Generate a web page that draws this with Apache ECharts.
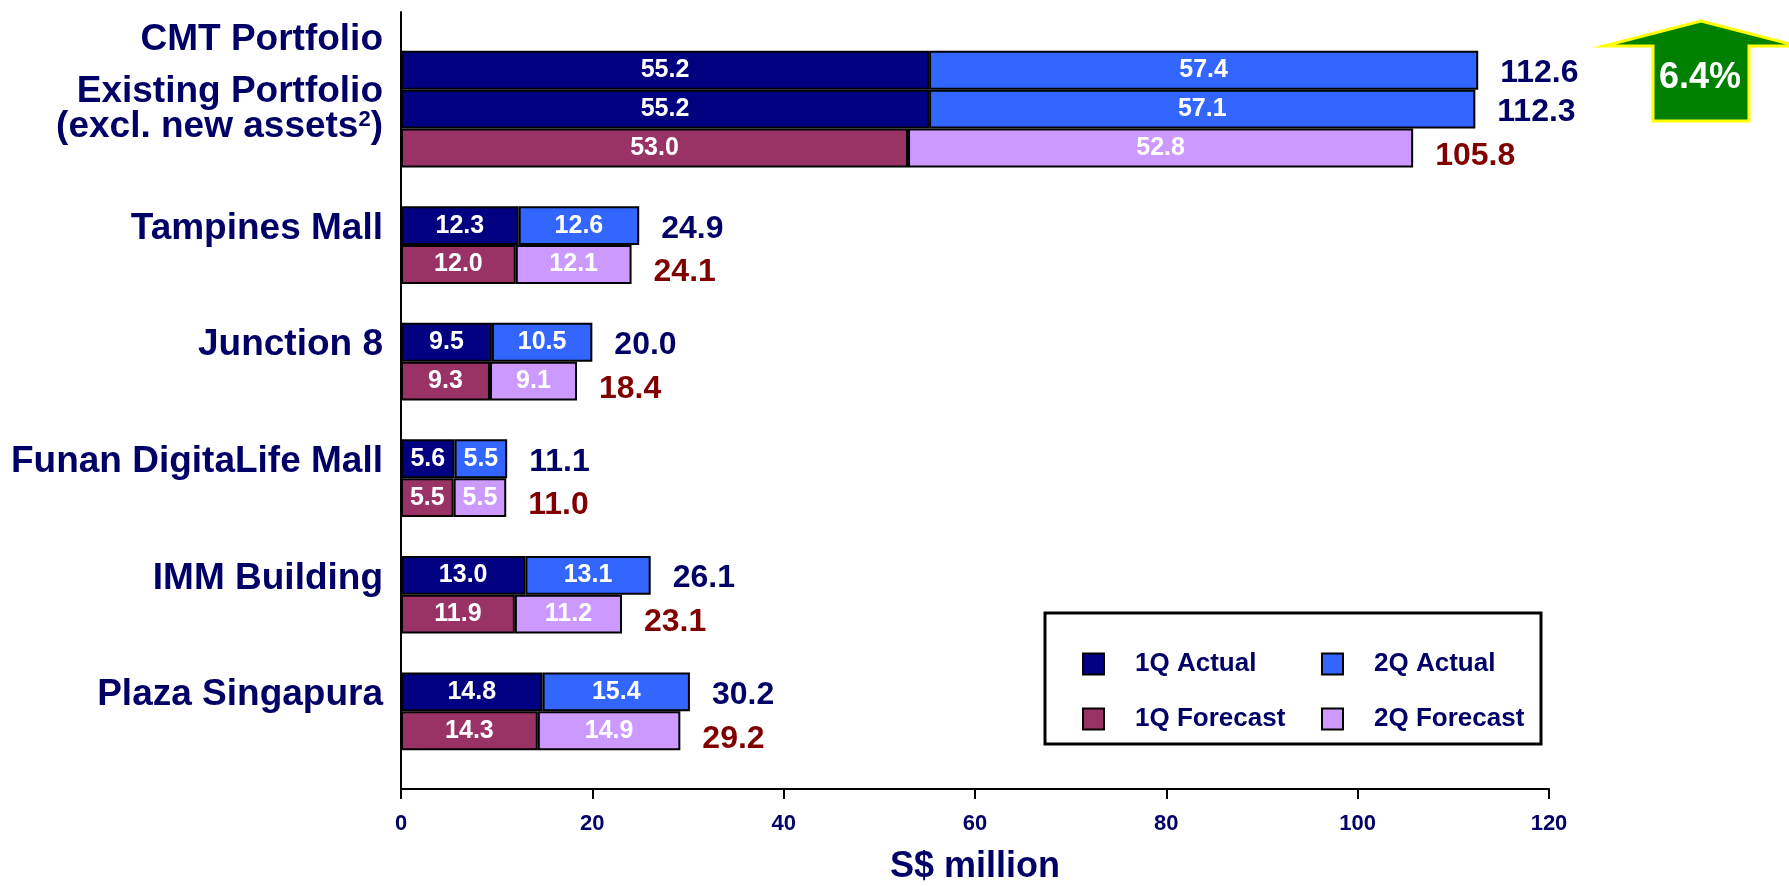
<!DOCTYPE html>
<html>
<head>
<meta charset="utf-8">
<script src="https://cdn.jsdelivr.net/npm/echarts@6/dist/echarts.min.js"></script>
<style>
  html, body { margin: 0; padding: 0; background: #fff; }
  #chart { width: 1789px; height: 886px; }
</style>
</head>
<body>
<div id="chart"></div>
<script>
// values
const properties = ['Existing Portfolio', 'Tampines Mall', 'Junction 8', 'Funan DigitaLife Mall', 'IMM Building', 'Plaza Singapura'];
const actual1Q = [55.2, 12.3, 9.5, 5.6, 13.0, 14.8];
const actual2Q = [57.1, 12.6, 10.5, 5.5, 13.1, 15.4];
const actualTotal = [112.3, 24.9, 20.0, 11.1, 26.1, 30.2];
const forecast1Q = [53.0, 12.0, 9.3, 5.5, 11.9, 14.3];
const forecast2Q = [52.8, 12.1, 9.1, 5.5, 11.2, 14.9];
const forecastTotal = [105.8, 24.1, 18.4, 11.0, 23.1, 29.2];
const portfolioName = 'CMT Portfolio';
const portfolio1Q = 55.2;
const portfolio2Q = 57.4;
const portfolioTotal = 112.6;
const existingNote = '(excl. new assets{sup|2})';
const growth = '6.4%';
const seriesNames = ['1Q Actual', '2Q Actual', '1Q Forecast', '2Q Forecast'];
const xMin = 0, xMax = 120, xStep = 20;
const xTitle = 'S$ million';

const NAVY = '#000066';
const MAROON = '#800000';
const FONT = '"Liberation Sans", Arial, sans-serif';

// one category row per bar, with blank rows between the groups
const rows = [{label: portfolioName}, {a1: portfolio1Q, a2: portfolio2Q, at: portfolioTotal}];
properties.forEach((name, i) => {
  if (i > 0) rows.push({});
  rows.push({label: name, a1: actual1Q[i], a2: actual2Q[i], at: actualTotal[i]});
  rows.push({f1: forecast1Q[i], f2: forecast2Q[i], ft: forecastTotal[i]});
});
rows.push({});

const pick = key => rows.map(r => (r[key] === undefined ? '-' : r[key]));

const partSeries = (name, key, color) => ({
  type: 'bar',
  name: name,
  stack: 'q',
  barWidth: '100%',
  barGap: '-100%',
  data: pick(key),
  itemStyle: {color: color, borderColor: '#000', borderWidth: 2},
  label: {
    show: true, position: 'inside', color: '#fff',
    fontSize: 25, fontWeight: 'bold', fontFamily: FONT,
    formatter: p => Number(p.value).toFixed(1)
  }
});

const totalSeries = (key, color, dy) => ({
  type: 'bar',
  stack: 't',
  barWidth: '100%',
  barGap: '-100%',
  silent: true,
  z: 1,
  data: pick(key),
  itemStyle: {color: 'transparent'},
  label: {
    show: true, position: 'right', distance: 22, offset: [0, dy],
    color: color, fontSize: 32, fontWeight: 'bold', fontFamily: FONT,
    formatter: p => Number(p.value).toFixed(1)
  }
});

const legendText = {
  color: NAVY, fontSize: 26, fontWeight: 'bold', fontFamily: FONT, lineHeight: 21,
  rich: {g: {width: 26, lineHeight: 21}}
};

// nudge the two stacked header labels a little
const yCats = rows.map((r, i) => {
  if (i === 0) return {value: 'row' + i, textStyle: {padding: [16, 0, 0, 0]}};
  if (r.label === properties[0]) return {value: 'row' + i, textStyle: {padding: [0, 0, 0, 0]}};
  return 'row' + i;
});

const chart = echarts.init(document.getElementById('chart'));
chart.setOption({
  animation: false,
  textStyle: {fontFamily: FONT},
  grid: {left: 401, right: 240, top: 12, bottom: 97, containLabel: false, outerBoundsMode: 'none'},
  xAxis: {
    type: 'value',
    min: xMin, max: xMax, interval: xStep,
    axisLine: {show: true, lineStyle: {color: '#000', width: 2}},
    axisTick: {show: true, length: 10, lineStyle: {color: '#000', width: 2}},
    splitLine: {show: false},
    axisLabel: {color: NAVY, fontSize: 22, fontWeight: 'bold', margin: 24},
    name: xTitle,
    nameLocation: 'middle',
    nameGap: 60,
    nameTextStyle: {color: NAVY, fontSize: 36, fontWeight: 'bold'}
  },
  yAxis: {
    type: 'category',
    inverse: true,
    data: yCats,
    axisLine: {show: true, onZero: false, lineStyle: {color: '#000', width: 2}},
    axisTick: {show: false},
    axisLabel: {
      interval: 0,
      margin: 18,
      color: NAVY, fontSize: 37, fontWeight: 'bold', lineHeight: 35,
      padding: [6, 0, 0, 0],
      formatter: (v, i) => {
        const label = rows[i].label || '';
        return label === properties[0] ? label + '\n' + existingNote : label;
      },
      rich: {sup: {fontSize: 22, fontWeight: 'bold', color: NAVY, verticalAlign: 'top', lineHeight: 18}}
    }
  },
  legend: [
    {
      data: [seriesNames[0], seriesNames[2]], orient: 'vertical', left: 1077, top: 646,
      itemWidth: 21, itemHeight: 21, itemGap: 29, icon: 'rect', selectedMode: false, z: 5,
      formatter: n => '{g|}' + n, textStyle: legendText
    },
    {
      data: [seriesNames[1], seriesNames[3]], orient: 'vertical', left: 1316, top: 646,
      itemWidth: 21, itemHeight: 21, itemGap: 29, icon: 'rect', selectedMode: false, z: 5,
      formatter: n => '{g|}' + n, textStyle: legendText
    }
  ],
  graphic: [
    {
      type: 'rect', z: 0,
      shape: {x: 1045, y: 613, width: 496, height: 131},
      style: {fill: '#fff', stroke: '#000', lineWidth: 3}
    },
    {
      type: 'polygon', z: 0,
      shape: {points: [[1701, 21], [1798, 46], [1749, 46], [1749, 121], [1653, 121], [1653, 46], [1604, 46]]},
      style: {fill: '#008000', stroke: '#ffff00', lineWidth: 3}
    },
    {
      type: 'text', z: 1, x: 1700, y: 78,
      style: {text: growth, fill: '#fff', font: 'bold 36px ' + FONT, align: 'center', verticalAlign: 'middle'}
    }
  ],
  series: [
    partSeries(seriesNames[0], 'a1', '#000080'),
    partSeries(seriesNames[1], 'a2', '#3366ff'),
    partSeries(seriesNames[2], 'f1', '#993366'),
    partSeries(seriesNames[3], 'f2', '#cc99ff'),
    totalSeries('at', NAVY, 3),
    totalSeries('ft', MAROON, 8)
  ]
});
</script>
</body>
</html>
